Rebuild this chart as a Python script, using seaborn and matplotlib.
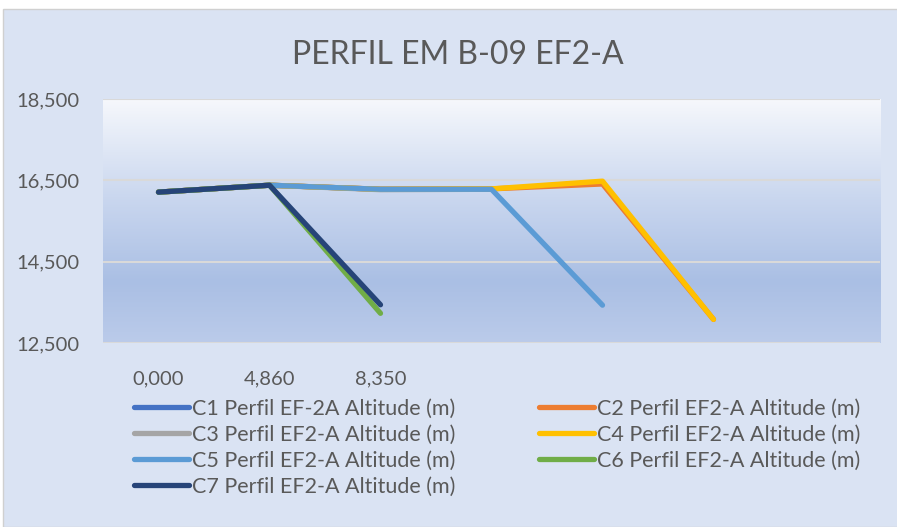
import numpy as np
import pandas as pd
import matplotlib
matplotlib.use("Agg")
import matplotlib.pyplot as plt
import seaborn as sns
from matplotlib.colors import LinearSegmentedColormap
from matplotlib.patches import Rectangle

# Category labels on the x axis (7 slots, only the first 3 are labelled)
categories = ["0,000", "4,860", "8,350", "", "", "", ""]

# Altitude values per profile (m); None = no value for that position
c1 = [16.21, 16.38, 16.28, 16.28, None, None, None]
c2 = [16.21, 16.38, 16.28, 16.29, 16.41, 13.08, None]
c3 = [16.21, 16.38, 16.27, 16.28, None, None, None]
c4 = [16.21, 16.38, 16.28, 16.29, 16.48, 13.08, None]
c5 = [16.21, 16.38, 16.28, 16.28, 13.43, None, None]
c6 = [16.21, 16.38, 13.23, None, None, None, None]
c7 = [16.21, 16.38, 13.44, None, None, None, None]

series_names = [
    "C1 Perfil EF-2A Altitude (m)",
    "C2 Perfil EF2-A Altitude (m)",
    "C3 Perfil EF2-A Altitude (m)",
    "C4 Perfil EF2-A Altitude (m)",
    "C5 Perfil EF2-A Altitude (m)",
    "C6 Perfil EF2-A Altitude (m)",
    "C7 Perfil EF2-A Altitude (m)",
]
colors = ["#4472C4", "#ED7D31", "#A5A5A5", "#FFC000", "#5B9BD5", "#70AD47", "#264478"]

rows = []
for name, vals in zip(series_names, [c1, c2, c3, c4, c5, c6, c7]):
    for i, v in enumerate(vals):
        if v is not None:
            rows.append({"pos": i, "alt": v, "serie": name})
df = pd.DataFrame(rows)

sns.set_style("white")
plt.rcParams["font.family"] = ["Lato", "DejaVu Sans"]

fig = plt.figure(figsize=(8.97, 5.27), dpi=100, facecolor="white")
# chart area background
fig.patches.append(Rectangle((3 / 897, 0), 1, 1 - 9 / 527, transform=fig.transFigure,
                             facecolor="#DAE3F3", edgecolor="#D0D0D0", lw=1, zorder=-10))

ax = fig.add_axes([103 / 897, 1 - 343 / 527, 777 / 897, 244 / 527])
ax.set_facecolor("none")

# gradient fill of plot area
cmap = LinearSegmentedColormap.from_list(
    "grad", [(0.0, "#BBCBEA"), (0.25, "#AABFE4"), (0.6, "#CAD7EF"), (1.0, "#F6F8FC")])
grad = np.linspace(0, 1, 256).reshape(-1, 1)
ax.imshow(grad, cmap=cmap, extent=[0, 1, 0, 1], transform=ax.transAxes,
          aspect="auto", origin="lower", zorder=0)

for y in [12.5, 14.5, 16.5, 18.5]:
    ax.axhline(y, color="#D9D9D9", lw=1.5, zorder=1)

sns.lineplot(data=df, x="pos", y="alt", hue="serie", hue_order=series_names,
             palette=colors, linewidth=3.8, legend=False, ax=ax, zorder=3,
             solid_capstyle="round", solid_joinstyle="round")

ax.set_xlim(-0.5, 6.5)
ax.set_ylim(12.5, 18.5)
ax.set_xticks(range(len(categories)))
ax.set_xticklabels(categories)
ax.set_yticks([12.5, 14.5, 16.5, 18.5])
ax.set_yticklabels(["12,500", "14,500", "16,500", "18,500"])
ax.tick_params(axis="both", length=0, labelsize=14.5, labelcolor="#595959")
ax.tick_params(axis="x", pad=20)
ax.tick_params(axis="y", pad=17)
ax.set_xlabel("")
ax.set_ylabel("")
for s in ax.spines.values():
    s.set_visible(False)

fig.text(0.51, 1 - 55 / 527, "PERFIL EM B-09 EF2-A", ha="center", va="center",
         fontsize=23, color="#595959")

handles = [plt.Line2D([], [], color=c, lw=3.8) for c in colors]
order = [0, 2, 4, 6, 1, 3, 5]
fig.legend([handles[i] for i in order], [series_names[i] for i in order],
           ncol=2, loc="upper left", bbox_to_anchor=(125 / 897, 1 - 390 / 527),
           frameon=False, fontsize=15.5, labelcolor="#595959",
           handlelength=2.55, handletextpad=0.15, columnspacing=3.9,
           labelspacing=0.28, borderaxespad=0)

fig.savefig("out.png", dpi=100)
